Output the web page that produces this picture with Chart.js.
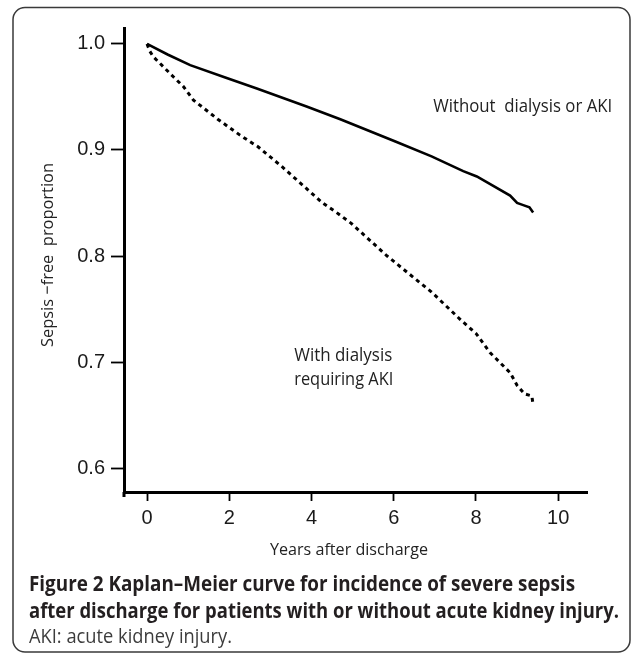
<!DOCTYPE html>
<html>
<head>
<meta charset="utf-8">
<script src="https://cdn.jsdelivr.net/npm/chart.js@4"></script>
<style>
  html, body { margin: 0; padding: 0; background: #fff; }
  canvas { display: block; }
</style>
</head>
<body>
<canvas id="km" width="632" height="655"></canvas>
<script>
// data
const yearsNoAki = [0, 0.5, 1.05, 1.92, 2.67, 3.88, 4.7, 6.04, 6.92, 7.69, 8.02, 8.83, 9.0, 9.15, 9.3, 9.39];
const survNoAki  = [1.0, 0.990, 0.980, 0.968, 0.958, 0.941, 0.929, 0.908, 0.894, 0.880, 0.875, 0.857, 0.850, 0.848, 0.846, 0.841];

const yearsAki = [0, 0.07, 0.15, 0.64, 0.88, 1.13, 1.72, 2.26, 2.7, 3.29, 4.27, 4.61, 4.96, 5.84, 6.92, 7.65, 8.0, 8.34, 8.83, 9.0, 9.18, 9.36, 9.39];
const survAki  = [1.0, 0.993, 0.988, 0.969, 0.960, 0.947, 0.929, 0.914, 0.903, 0.884, 0.850, 0.841, 0.831, 0.800, 0.766, 0.739, 0.727, 0.709, 0.690, 0.678, 0.670, 0.668, 0.659];

const yTicks = [0.6, 0.7, 0.8, 0.9, 1.0];
const xTicks = [0, 2, 4, 6, 8, 10];

const toPoints = (xs, ys) => xs.map((x, i) => ({ x: x, y: ys[i] }));

// text that sits around the plot
const textFont = '"Open Sans", "Noto Sans", sans-serif';

function fitText(ctx, txt, x, y, width) {
  const w = ctx.measureText(txt).width;
  ctx.save();
  ctx.translate(x, y);
  ctx.scale(width / w, 1);
  ctx.fillText(txt, 0, 0);
  ctx.restore();
}

const decorations = {
  id: 'decorations',
  afterDraw(chart) {
    const ctx = chart.ctx;
    const xs = chart.scales.x, ys = chart.scales.y;
    ctx.save();

    // frame round the figure
    ctx.strokeStyle = '#3a3a3a';
    ctx.lineWidth = 1.5;
    ctx.beginPath();
    ctx.roundRect(13, 7.5, 617, 644.5, 12);
    ctx.stroke();

    // y axis runs a little past the x axis
    ctx.strokeStyle = '#000';
    ctx.lineWidth = 3;
    ctx.beginPath();
    ctx.moveTo(xs.left, ys.bottom);
    ctx.lineTo(xs.left, ys.bottom + 5);
    ctx.stroke();

    // axis titles
    ctx.fillStyle = '#222';
    ctx.textBaseline = 'middle';
    ctx.font = '17px ' + textFont;
    ctx.textAlign = 'left';
    fitText(ctx, 'Years after discharge', 270, 550, 158);
    ctx.save();
    ctx.translate(48, 347);
    ctx.rotate(-Math.PI / 2);
    fitText(ctx, 'Sepsis \u2212free  proportion', 0, 0, 184);
    ctx.restore();

    // curve labels
    ctx.font = '18px ' + textFont;
    fitText(ctx, 'Without  dialysis or AKI', xs.getPixelForValue(6.96), ys.getPixelForValue(0.941), 179);
    fitText(ctx, 'With dialysis', xs.getPixelForValue(3.58), ys.getPixelForValue(0.7056), 98);
    fitText(ctx, 'requiring AKI', xs.getPixelForValue(3.58), ys.getPixelForValue(0.683), 99);

    // caption
    ctx.fillStyle = '#231f20';
    ctx.font = 'bold 21px ' + textFont;
    fitText(ctx, 'Figure 2 Kaplan\u2013Meier curve for incidence of severe sepsis', 29, 585, 546);
    fitText(ctx, 'after discharge for patients with or without acute kidney injury.', 29, 612, 590);
    ctx.fillStyle = '#3c3c3c';
    ctx.font = '20px ' + textFont;
    fitText(ctx, 'AKI: acute kidney injury.', 29, 637, 203);

    ctx.restore();
  }
};

const config = {
  type: 'scatter',
  data: {
    datasets: [
      {
        label: 'Without dialysis or AKI',
        data: toPoints(yearsNoAki, survNoAki),
        showLine: true,
        borderColor: '#000',
        borderWidth: 2.6,
        pointRadius: 0,
        tension: 0,
      },
      {
        label: 'With dialysis requiring AKI',
        data: toPoints(yearsAki, survAki),
        showLine: true,
        borderColor: '#000',
        borderWidth: 3,
        borderDash: [4, 4],
        pointRadius: 0,
        tension: 0,
      },
    ],
  },
  options: {
    responsive: false,
    animation: false,
    layout: { padding: { left: 0, top: 28, right: 45, bottom: 103 } },
    plugins: { legend: { display: false }, tooltip: { enabled: false } },
    scales: {
      x: {
        type: 'linear',
        min: -0.56,
        max: 10.7,
        afterFit: (s) => { s.height = 60; },
        afterBuildTicks: (s) => { s.ticks = xTicks.map((v) => ({ value: v })); },
        grid: { display: true, drawOnChartArea: false, tickLength: 9, tickWidth: 1.8, color: '#000' },
        border: { display: true, color: '#000', width: 3 },
        ticks: {
          color: '#1a1a1a',
          padding: 5,
          font: { family: '"Liberation Sans", Arial, sans-serif', size: 20 },
        },
      },
      y: {
        type: 'linear',
        min: 0.5775,
        max: 1.015,
        afterFit: (s) => { s.width = 124; },
        afterBuildTicks: (s) => { s.ticks = yTicks.map((v) => ({ value: v })); },
        grid: { display: true, drawOnChartArea: false, tickLength: 13, tickWidth: 1.8, color: '#000' },
        border: { display: true, color: '#000', width: 3 },
        ticks: {
          color: '#1a1a1a',
          padding: 6,
          callback: (v) => v.toFixed(1),
          font: { family: '"Liberation Sans", Arial, sans-serif', size: 20 },
        },
      },
    },
  },
  plugins: [decorations],
};

const kmChart = new Chart(document.getElementById('km'), config);
</script>
</body>
</html>
